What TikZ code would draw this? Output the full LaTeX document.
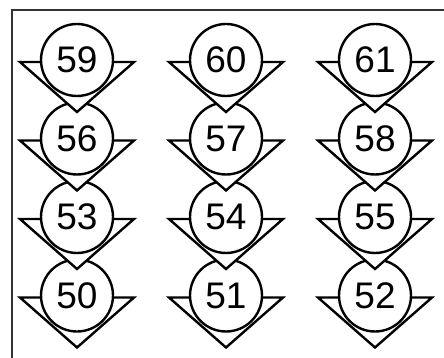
\documentclass[tikz,border=0pt]{standalone}
\usepackage{fontspec}
\setmainfont{Liberation Sans}
\usetikzlibrary{calc}

\begin{document}
\begin{tikzpicture}[x=1pt, y=-1pt,
    cell/.style={draw, circle, fill=white, line width=2.4pt, minimum size=72pt, inner sep=0pt, font=\fontsize{37}{37}\selectfont},
    wedge/.style={draw, fill=white, line width=2.4pt, line join=miter},
    frame/.style={draw, line width=1.8pt, black!80},
]

% page, cut off on the right and at the bottom
\clip (0,0) rectangle (444,358);
\draw[frame] (12,10) rectangle (470,380);

% cells 50..61, bottom row first so that each row lies on the one below
\foreach \n [count=\i from 0] in {50,...,61} {
    \pgfmathtruncatemacro\col{mod(\i,3)}
    \pgfmathtruncatemacro\row{\i/3}
    \coordinate (c\n) at ({77+149*\col}, {295.5-78.5*\row});
    \draw[wedge] ($(c\n)+(-57,2)$) -- ($(c\n)+(57,2)$) -- ($(c\n)+(0,52)$) -- cycle;
    \node[cell] (n\n) at (c\n) {\raisebox{-4pt}{\n}};
}

\end{tikzpicture}
\end{document}
